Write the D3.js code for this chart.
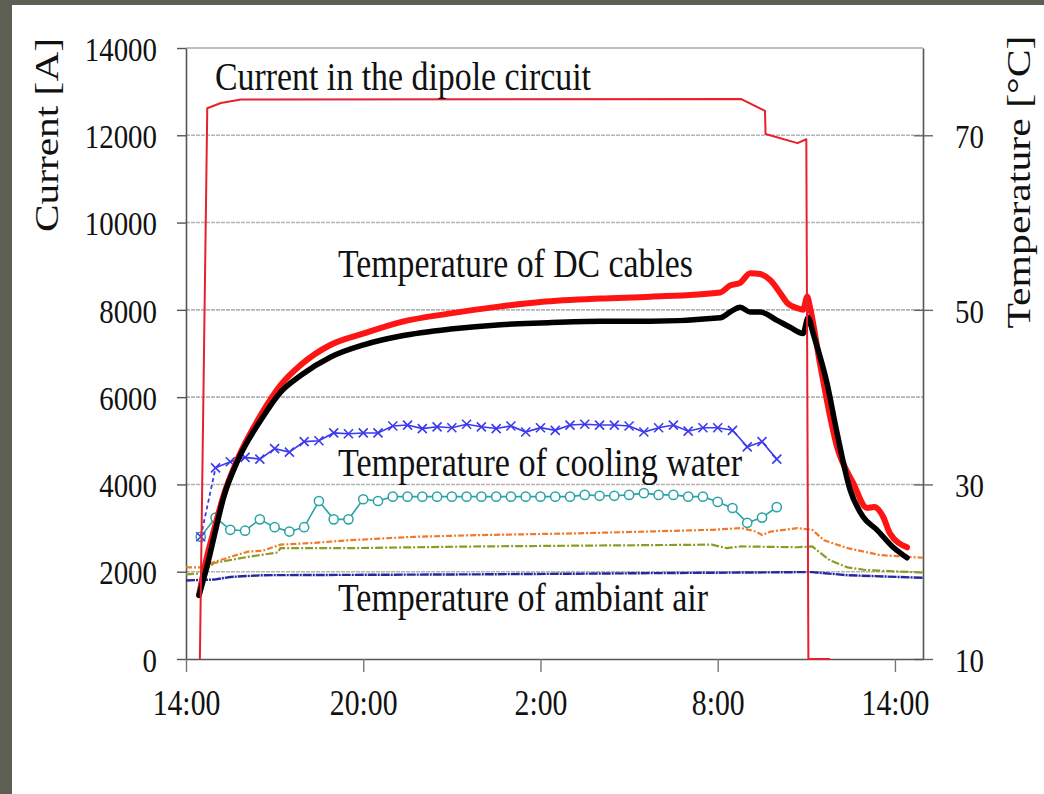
<!DOCTYPE html>
<html>
<head>
<meta charset="utf-8">
<script src="https://cdn.jsdelivr.net/npm/d3@7/dist/d3.min.js"></script>
<style>
  html, body { margin: 0; padding: 0; background: #ffffff; }
  svg { display: block; }
  text { font-family: "Liberation Serif", "Times New Roman", serif; fill: #111; }
</style>
</head>
<body>
<svg id="chart" width="1044" height="794"></svg>
<script>
// Time axis: hours counted from 14:00 on the first day
const hourTicks = [0, 6, 12, 18, 24];
const hourLabels = ["14:00", "20:00", "2:00", "8:00", "14:00"];
const currentTicks = [0, 2000, 4000, 6000, 8000, 10000, 12000, 14000];
const gridCurrents = [2000, 4000, 6000, 8000, 10000, 12000];
const tempTicks = [10, 30, 50, 70];

// Current in the dipole circuit [A]
const dipoleCurrent = [
  [0.47, 0], [0.72, 12620], [1.18, 12740], [1.86, 12820], [18.8, 12830],
  [19.6, 12560], [19.62, 12030], [20.7, 11820], [21.0, 11910], [21.07, 0], [21.8, 0]
];

// DC cable temperatures [°C]
const cableTempRed = [
  [0.44, 17.3], [0.68, 21.3], [0.95, 24.8], [1.28, 28.8], [1.76, 33.0], [2.54, 38.0],
  [3.21, 41.4], [3.89, 43.7], [4.9, 46.0], [6.02, 47.3], [7.27, 48.6], [8.96, 49.6],
  [10.65, 50.4], [12.0, 50.9], [14.03, 51.3], [15.72, 51.5], [18.09, 52.0], [18.42, 52.8],
  [18.76, 53.1], [19.1, 54.2], [19.44, 54.1], [19.78, 53.4], [20.12, 51.9], [20.35, 50.8],
  [20.69, 50.2], [20.89, 50.0], [21.03, 51.5], [21.13, 50.2], [21.47, 43.7], [22.04, 34.3],
  [22.58, 30.2], [23.06, 27.3], [23.3, 27.4], [23.6, 26.3], [23.83, 24.4], [24.41, 22.8]
];
const cableTempBlack = [
  [0.44, 17.3], [0.74, 21.0], [0.95, 24.0], [1.28, 28.6], [1.76, 32.8], [2.54, 37.4],
  [3.21, 40.6], [3.89, 42.5], [4.9, 44.6], [6.02, 46.0], [7.27, 47.0], [8.96, 47.8],
  [10.65, 48.3], [12.0, 48.5], [14.03, 48.7], [15.72, 48.7], [18.09, 49.1], [18.42, 49.75],
  [18.76, 50.3], [19.1, 49.75], [19.44, 49.75], [20.01, 48.8], [20.45, 48.0], [20.89, 47.3],
  [21.06, 49.1], [21.23, 47.3], [21.7, 41.6], [22.04, 35.9], [22.48, 29.4], [22.92, 26.3],
  [23.39, 24.8], [23.94, 22.8], [24.41, 21.6]
];

// Cooling water temperatures, sampled every half hour [°C]
const waterHours = [
  0.5, 1.0, 1.5, 2.0, 2.5, 3.0, 3.5, 4.0, 4.5, 5.0, 5.5, 6.0, 6.5, 7.0, 7.5, 8.0, 8.5, 9.0, 9.5, 10.0,
  10.5, 11.0, 11.5, 12.0, 12.5, 13.0, 13.5, 14.0, 14.5, 15.0, 15.5, 16.0, 16.5, 17.0, 17.5, 18.0, 18.5, 19.0, 19.5, 20.0
];
const waterOutTemp = [
  24.0, 31.9, 32.6, 33.1, 32.9, 34.1, 33.7, 34.9, 35.0, 35.9, 35.8, 35.9, 35.9, 36.7, 36.8, 36.4, 36.6, 36.5, 36.9, 36.6,
  36.4, 36.7, 36.0, 36.5, 36.2, 36.8, 36.9, 36.8, 36.8, 36.7, 36.0, 36.5, 36.8, 36.1, 36.5, 36.5, 36.2, 34.3, 34.9, 32.9
];
const waterInTemp = [
  24.0, 26.2, 24.8, 24.7, 26.0, 25.1, 24.6, 25.1, 28.1, 26.0, 26.0, 28.3, 28.1, 28.6, 28.6, 28.6, 28.6, 28.6, 28.6, 28.6,
  28.6, 28.6, 28.6, 28.6, 28.6, 28.6, 28.8, 28.7, 28.7, 28.8, 29.0, 28.8, 28.8, 28.6, 28.6, 28.0, 27.3, 25.6, 26.2, 27.4
];

// Surrounding temperatures [°C]
const tempOrange = [
  [0, 20.5], [0.5, 20.5], [0.95, 21.1], [1.6, 21.8], [2.1, 22.3], [2.6, 22.4], [3.2, 23.1], [4.3, 23.3],
  [5.5, 23.6], [7.7, 24.0], [10, 24.2], [13.3, 24.4], [17.8, 24.8], [18.8, 25.0], [19.3, 24.6],
  [19.5, 24.2], [19.8, 24.6], [20.7, 25.0], [21.2, 24.8], [21.6, 23.6], [22.4, 22.7], [23.5, 21.9], [24.95, 21.6]
];
const tempOlive = [
  [0, 19.7], [0.5, 19.8], [0.95, 21.0], [2.1, 21.7], [3.1, 22.2], [3.2, 22.7], [5.5, 22.7], [10, 22.9],
  [17.8, 23.1], [18.3, 22.7], [18.8, 22.9], [20.7, 22.8], [21.2, 22.9], [21.8, 21.3], [22.4, 20.5],
  [23, 20.2], [24.95, 19.9]
];
const tempAmbient = [
  [0, 19.0], [0.95, 19.1], [1.5, 19.4], [2.6, 19.6], [10, 19.7], [20.7, 19.95], [21.2, 19.95],
  [22.4, 19.6], [24.95, 19.3]
];

const svg = d3.select("#chart");
const W = 1044, H = 794;
const plot = { left: 186, right: 923, top: 48, bottom: 659 };
const squeeze = 0.85;   // glyphs are drawn slightly condensed
const serif = '"Liberation Serif", "Times New Roman", serif';

// page frame
svg.append("rect").attr("x", 0).attr("y", 0).attr("width", W).attr("height", H).attr("fill", "#5d5f53");
svg.append("rect").attr("x", 12).attr("y", 5).attr("width", W - 12).attr("height", H - 5).attr("fill", "#ffffff");

const x = d3.scaleLinear().domain([0, 24.95]).range([plot.left, plot.right]);
const yA = d3.scaleLinear().domain([0, 14000]).range([plot.bottom, plot.top]);
const yT = d3.scaleLinear().domain([10, 80]).range([plot.bottom, plot.top]);

// horizontal grid
svg.append("g").selectAll("line").data(gridCurrents).join("line")
  .attr("x1", plot.left).attr("x2", plot.right)
  .attr("y1", d => yA(d)).attr("y2", d => yA(d))
  .attr("stroke", "#b4b4b4").attr("stroke-width", 1.6).attr("stroke-dasharray", "4,1");

// plot frame (top edge)
svg.append("line").attr("x1", plot.left).attr("x2", plot.right).attr("y1", plot.top).attr("y2", plot.top)
  .attr("stroke", "#a8a8a8").attr("stroke-width", 1.5);

function condense(sel) {
  sel.each(function () {
    const t = d3.select(this);
    const xx = +t.attr("x") || 0;
    t.attr("transform", `translate(${xx * (1 - squeeze)},0) scale(${squeeze},1)`);
  });
}

// left axis: current
const axisL = svg.append("g").attr("transform", `translate(${plot.left},0)`)
  .call(d3.axisLeft(yA).tickValues(currentTicks).tickSize(9).tickSizeOuter(0).tickPadding(20).tickFormat(d3.format("d")));
axisL.select(".domain").attr("stroke", "#555").attr("stroke-width", 1.6);
axisL.selectAll(".tick line").attr("stroke", "#555").attr("stroke-width", 1.4);
axisL.selectAll(".tick text").attr("font-family", serif).attr("font-size", 34).attr("fill", "#111")
  .attr("dy", "0.36em").call(condense);

// right axis: temperature
const axisR = svg.append("g").attr("transform", `translate(${plot.right},0)`)
  .call(d3.axisRight(yT).tickValues(tempTicks).tickSize(10).tickSizeOuter(0).tickPadding(22).tickFormat(d3.format("d")));
axisR.select(".domain").attr("stroke", "#555").attr("stroke-width", 1.6);
axisR.selectAll(".tick line").attr("stroke", "#666").attr("stroke-width", 1.4).attr("x1", -9);
axisR.selectAll(".tick text").attr("font-family", serif).attr("font-size", 34).attr("fill", "#111")
  .attr("dy", "0.36em").call(condense);

// bottom axis: time of day
const axisB = svg.append("g").attr("transform", `translate(0,${plot.bottom})`)
  .call(d3.axisBottom(x).tickValues(hourTicks).tickSize(13).tickSizeOuter(0).tickPadding(36)
    .tickFormat((d, i) => hourLabels[i]));
axisB.select(".domain").attr("stroke", "#555").attr("stroke-width", 1.6);
axisB.selectAll(".tick line").attr("stroke", "#777").attr("stroke-width", 1.4);
axisB.selectAll(".tick text").attr("font-family", serif).attr("font-size", 35).attr("fill", "#111")
  .attr("dy", "0.2em").call(condense);

// axis titles
svg.append("text").attr("transform", "translate(58,135) rotate(-90) scale(1,0.85)")
  .attr("text-anchor", "middle").attr("font-size", 40)
  .attr("textLength", 194).attr("lengthAdjust", "spacingAndGlyphs").text("Current [A]");
svg.append("text").attr("transform", "translate(1030,182) rotate(-90) scale(1,0.85)")
  .attr("text-anchor", "middle").attr("font-size", 40)
  .attr("textLength", 293).attr("lengthAdjust", "spacingAndGlyphs").text("Temperature [°C]");

const lineA = d3.line().x(d => x(d[0])).y(d => yA(d[1]));
const lineT = d3.line().x(d => x(d[0])).y(d => yT(d[1]));

// surrounding temperatures
svg.append("path").datum(tempAmbient).attr("d", lineT).attr("fill", "none")
  .attr("stroke", "#28289a").attr("stroke-width", 2.4).attr("stroke-dasharray", "9,1,2,1");
svg.append("path").datum(tempOlive).attr("d", lineT).attr("fill", "none")
  .attr("stroke", "#8c9a26").attr("stroke-width", 2.2).attr("stroke-dasharray", "8,2,2,2");
svg.append("path").datum(tempOrange).attr("d", lineT).attr("fill", "none")
  .attr("stroke", "#f07a2a").attr("stroke-width", 2.2).attr("stroke-dasharray", "6,2,2,2");

// cooling water
const inPts = waterHours.map((h, i) => [h, waterInTemp[i]]);
const outPts = waterHours.map((h, i) => [h, waterOutTemp[i]]);
svg.append("path").datum(inPts).attr("d", lineT).attr("fill", "none")
  .attr("stroke", "#2aa3a6").attr("stroke-width", 1.6);
svg.append("g").selectAll("circle").data(inPts).join("circle")
  .attr("cx", d => x(d[0])).attr("cy", d => yT(d[1])).attr("r", 4.6)
  .attr("fill", "#ffffff").attr("stroke", "#2aa3a6").attr("stroke-width", 1.5);

svg.append("path").datum(outPts.slice(0, 2)).attr("d", lineT).attr("fill", "none")
  .attr("stroke", "#3a3aee").attr("stroke-width", 1.8).attr("stroke-dasharray", "4,3");
svg.append("path").datum(outPts.slice(1)).attr("d", lineT).attr("fill", "none")
  .attr("stroke", "#3a3aee").attr("stroke-width", 1.6);
svg.append("g").selectAll("path").data(outPts).join("path")
  .attr("d", d => {
    const cx = x(d[0]), cy = yT(d[1]), s = 4.5;
    return `M${cx - s},${cy - s}L${cx + s},${cy + s}M${cx - s},${cy + s}L${cx + s},${cy - s}`;
  })
  .attr("fill", "none").attr("stroke", "#3a3aee").attr("stroke-width", 1.6);

// DC cables
svg.append("path").datum(cableTempRed).attr("d", lineT.curve(d3.curveMonotoneX)).attr("fill", "none")
  .attr("stroke", "#ff1414").attr("stroke-width", 6).attr("stroke-linejoin", "round").attr("stroke-linecap", "round");
svg.append("path").datum(cableTempBlack).attr("d", lineT.curve(d3.curveMonotoneX)).attr("fill", "none")
  .attr("stroke", "#000000").attr("stroke-width", 5.5).attr("stroke-linejoin", "round").attr("stroke-linecap", "round");

// dipole current
svg.append("path").datum(dipoleCurrent).attr("d", lineA).attr("fill", "none")
  .attr("stroke", "#e8202c").attr("stroke-width", 2).attr("stroke-linejoin", "round");

// series captions
const captions = [
  { text: "Current in the dipole circuit", x: 215, y: 90, w: 376 },
  { text: "Temperature of DC cables", x: 338, y: 277, w: 355 },
  { text: "Temperature of cooling water", x: 338, y: 476, w: 404 },
  { text: "Temperature of ambiant air", x: 338, y: 611, w: 370 }
];
svg.append("g").selectAll("text").data(captions).join("text")
  .attr("x", d => d.x).attr("y", d => d.y).attr("font-size", 39)
  .attr("textLength", d => d.w).attr("lengthAdjust", "spacingAndGlyphs")
  .text(d => d.text);
</script>
</body>
</html>
